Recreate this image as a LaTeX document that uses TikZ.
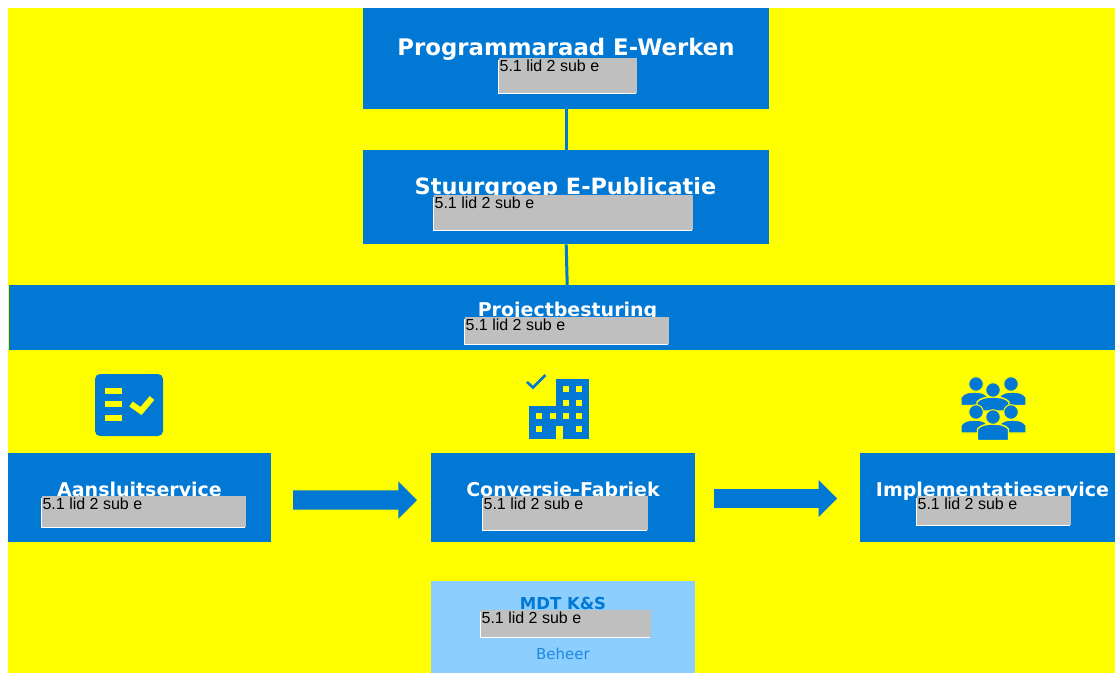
\documentclass[tikz,border=0pt]{standalone}
\usepackage{fontspec}
\setmainfont{DejaVu Sans}
\newfontfamily\arialfont{Liberation Sans}
\usetikzlibrary{shapes.arrows}
\definecolor{msblue}{HTML}{0078D4}
\definecolor{lightpanel}{HTML}{8CCFFF}
\definecolor{redactgrey}{HTML}{BFBFBF}
\definecolor{bgyellow}{HTML}{FFFF00}
\definecolor{beheerblue}{HTML}{1E88E0}
\tikzset{
  bluebox/.style={fill=msblue,draw=none,inner sep=0pt,anchor=north west},
  lightbox/.style={fill=lightpanel,draw=none,inner sep=0pt,anchor=north west},
  titlebig/.style={text=white,font=\fontsize{22.4}{26}\selectfont\bfseries,anchor=base,inner sep=0pt},
  titlemid/.style={text=white,font=\fontsize{19}{23}\selectfont\bfseries,anchor=base,inner sep=0pt},
  greybox/.style={fill=redactgrey,draw=none,inner sep=0pt,anchor=north west},
  greytext/.style={text=black,font=\arialfont\fontsize{16}{19}\selectfont,anchor=base west,inner sep=0pt},
  link/.style={draw=msblue,line width=3pt},
  blockarrow/.style={single arrow,fill=msblue,draw=none,inner sep=0pt,outer sep=0pt,anchor=tail,
    single arrow tip angle=90,single arrow head indent=0pt},
}
% x, y, width, height, name
\newcommand{\redactbox}[5]{%
  \fill[white] (#1-1,#2+2) rectangle (#1+#3-1,#2+#4+1.2);
  \node[greybox,minimum width=#3pt,minimum height=#4pt] (#5) at (#1,#2) {};
  \node[greytext] (#5t) at (#1+0.4,#2+13) {5.1 lid 2 sub e};
}
% centre x, top y, bottom y, half width
\newcommand{\personbody}[4]{%
  \filldraw[fill=msblue,draw=bgyellow,line width=1.4pt]
    (#1-#4,#3) -- (#1-#4,#2+5) .. controls (#1-#4+3,#2+1) and (#1-6,#2) .. (#1,#2)
    .. controls (#1+6,#2) and (#1+#4-3,#2+1) .. (#1+#4,#2+5) -- (#1+#4,#3) -- cycle;
}
\newcommand{\personhead}[2]{%
  \filldraw[fill=msblue,draw=bgyellow,line width=1pt] (#1,#2) circle (7.3);
}
\begin{document}
\begin{tikzpicture}[x=1pt,y=-1pt]
\useasboundingbox (0,0) rectangle (1115,673);
\fill[white] (0,0) rectangle (1115,673);
\fill[bgyellow] (8,8) rectangle (1115,673);

% boxes
\node[bluebox,minimum width=406pt,minimum height=101pt] (prog) at (363,8) {};
\node[bluebox,minimum width=406pt,minimum height=94pt] (stuur) at (363,150) {};
\node[bluebox,minimum width=1106pt,minimum height=65pt] (proj) at (9,285) {};
\node[bluebox,minimum width=263pt,minimum height=89pt] (aans) at (8,453) {};
\node[bluebox,minimum width=264pt,minimum height=89pt] (conv) at (431,453) {};
\node[bluebox,minimum width=255pt,minimum height=89pt] (impl) at (860,453) {};
\node[lightbox,minimum width=264pt,minimum height=92pt] (mdt) at (431,581) {};

% connectors
\draw[link] (prog.south) -- (stuur.north);
\draw[link] (stuur.south) -- ([xshift=1pt]stuur.south |- proj.north);

% titles
\node[titlebig,font=\fontsize{22.8}{26}\selectfont\bfseries] (tprog) at (566,55) {Programmaraad E-Werken};
\node[titlebig] (tstuur) at (565.5,194) {Stuurgroep E-Publicatie};
\node[titlemid] (tproj) at (567.5,316) {Projectbesturing};
\node[titlemid] (taans) at (139.5,496) {Aansluitservice};
\node[titlemid] (tconv) at (563,496) {Conversie-Fabriek};
\node[titlemid] (timpl) at (992.5,496) {Implementatieservice};
\node[text=msblue,font=\fontsize{16.5}{20}\selectfont\bfseries,anchor=base,inner sep=0pt] (tmdt) at (563,609) {MDT K\&S};
\node[text=beheerblue,font=\fontsize{15}{18}\selectfont,anchor=base,inner sep=0pt] (tbeh) at (563,659) {Beheer};

% block arrows
\node[blockarrow,minimum height=124pt,minimum width=37pt,single arrow head extend=9pt] (arr1) at (293,500) {\rule{0pt}{19pt}};
\node[blockarrow,minimum height=123pt,minimum width=37pt,single arrow head extend=9pt] (arr2) at (714,498.5) {\rule{0pt}{18.5pt}};

% redactions
\redactbox{499}{58}{138}{35}{r1}
\redactbox{434}{195}{259}{35}{r2}
\redactbox{465}{317}{204}{27}{r3}
\redactbox{42}{496}{204}{31}{r4}
\redactbox{483}{496}{165}{34}{r5}
\redactbox{917}{496}{154}{29}{r6}
\redactbox{481}{610}{170}{27}{r7}

% checklist icon
\fill[msblue,rounded corners=5pt] (95,374) rectangle (163,436);
\fill[bgyellow] (105,388) rectangle (122,394);
\fill[bgyellow] (105,401) rectangle (122,407);
\fill[bgyellow] (105,415) rectangle (122,421);
\draw[bgyellow,line width=6pt] (131,404) -- (141,411) -- (152,398);

% building icon
\fill[msblue] (556,379) rectangle (589,439);
\fill[msblue] (529,406) rectangle (556,439);
\fill[bgyellow] (556,426) rectangle (563,439);
\foreach \wx/\wy in {566/389,579/389,566/403,579/403,539/416,553/416,566/416,579/416,539/429,579/429}
  \fill[bgyellow] (\wx-3.2,\wy-3.2) rectangle (\wx+3.2,\wy+3.2);
\draw[msblue,line width=2.6pt] (527,382) -- (533,387.5) -- (545.5,375);

% people icon
\personbody{974.5}{392}{405.5}{13.5}
\personbody{1012.5}{392}{405.5}{13.5}
\personhead{976}{384}
\personhead{1011}{384}
\personbody{993}{397}{411}{16}
\personhead{993}{390}
\personbody{974.5}{420}{433}{13.5}
\personbody{1012.5}{420}{433}{13.5}
\personhead{976}{412}
\personhead{1011}{412}
\personbody{993}{424}{440.5}{15.5}
\personhead{993}{417}
\end{tikzpicture}
\end{document}
